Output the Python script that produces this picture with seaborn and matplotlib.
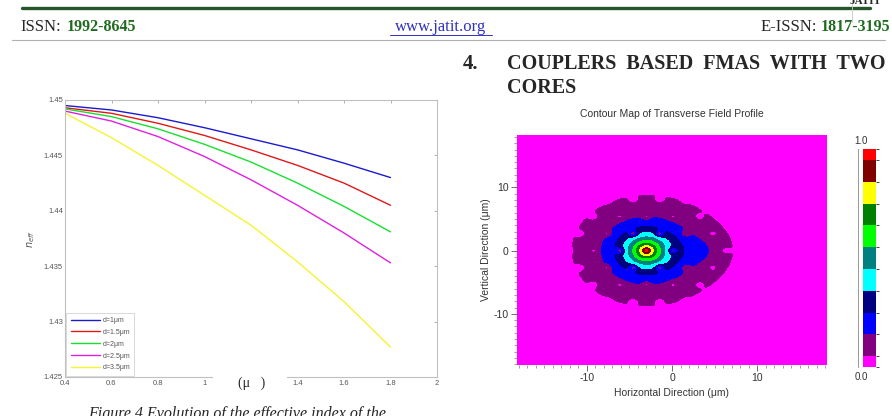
import numpy as np
import pandas as pd
import matplotlib
matplotlib.use('Agg')
import matplotlib.pyplot as plt
from matplotlib.colors import ListedColormap, BoundaryNorm
from matplotlib.patches import Rectangle
from matplotlib.lines import Line2D
import seaborn as sns

# left chart: effective index vs wavelength
wavelength = [0.4, 0.6, 0.8, 1.0, 1.2, 1.4, 1.6, 1.8]
n_d1 = [1.4495, 1.4491, 1.4484, 1.4475, 1.4465, 1.4455, 1.4443, 1.4430]
n_d15 = [1.4493, 1.4488, 1.4479, 1.4468, 1.4455, 1.4441, 1.4425, 1.4405]
n_d2 = [1.4492, 1.4485, 1.4474, 1.4460, 1.4444, 1.4425, 1.4404, 1.4381]
n_d25 = [1.4490, 1.4481, 1.4467, 1.4449, 1.4428, 1.4405, 1.4380, 1.4353]
n_d35 = [1.4488, 1.4466, 1.4441, 1.4414, 1.4387, 1.4354, 1.4318, 1.4277]
series_labels = ['d=1μm', 'd=1.5μm', 'd=2μm', 'd=2.5μm', 'd=3.5μm']
line_colors = ['#1a1ad0', '#e01818', '#18e030', '#e020e0', '#f4f430']
xtick_vals = [0.4, 0.6, 0.8, 1.0, 1.2, 1.4, 1.6, 1.8, 2.0]
xtick_labels = ['0.4', '0.6', '0.8', '1', '', '1.4', '1.6', '1.8', '2']  # 1.2 sits under the (μ ) patch
ytick_vals = [1.425, 1.43, 1.435, 1.44, 1.445, 1.45]
ytick_labels = ['1.425', '1.43', '1.435', '1.44', '1.445', '1.45']

# right chart: contour map, mode lobes / holes
lobe_x = [-3.0, -3.0, 3.2]
lobe_y = [0.0, 0.0, 0.0]
lobe_amp = [0.75, 0.25, 0.12]
lobe_decay = [2.3, 4.3, 2.0]
core_x = [-3.0, 3.2]
core_y = [0.0, 0.0]
pitch = 3.1
hole_depth = 0.7
hole_size = 0.35
levels = [0.0, 0.05, 0.15, 0.25, 0.35, 0.45, 0.55, 0.65, 0.75, 0.85, 0.95, 1.0]
level_colors = ['#ff00ff', '#800080', '#0000ff', '#000080', '#00ffff', '#008080',
                '#00ff00', '#008000', '#ffff00', '#800000', '#ff0000']

sns.set_style('white')
plt.rcParams['font.family'] = ['Liberation Sans', 'DejaVu Sans']

W, H = 892, 416
fig = plt.figure(figsize=(W / 100, H / 100), dpi=100)


def fx(px):
    return px / W


def fy(py):
    return 1 - py / H


# ---- page header
fig.add_artist(Line2D([fx(22), fx(870)], [fy(8), fy(8)], color='#24562a', lw=2.4))
fig.add_artist(Line2D([fx(12), fx(885)], [fy(40), fy(40)], color='#b0b0b0', lw=0.8))
fig.add_artist(Line2D([fx(852), fx(852)], [fy(0), fy(22)], color='#c8c8c8', lw=0.6))
fig.text(fx(866), fy(1), 'JATIT', ha='center', va='center', fontsize=8,
         fontweight='bold', family='Liberation Serif')
serif = 'Liberation Serif'
fig.text(fx(20), fy(27), 'ISSN:', ha='left', va='center', fontsize=12, family=serif)
fig.text(fx(67), fy(27), '1992-8645', ha='left', va='center', fontsize=11.5,
         family=serif, fontweight='bold', color='#1f6b1f')
fig.text(fx(441), fy(27), 'www.jatit.org', ha='center', va='center', fontsize=12,
         family=serif, color='#3030c0')
fig.add_artist(Line2D([fx(390), fx(492)], [fy(35), fy(35)], color='#3030c0', lw=0.7))
fig.text(fx(817), fy(27), 'E-ISSN:', ha='right', va='center', fontsize=12, family=serif)
fig.text(fx(890), fy(27), '1817-3195', ha='right', va='center', fontsize=11.5,
         family=serif, fontweight='bold', color='#1f6b1f')

fig.text(fx(463), fy(64), '4.', ha='left', va='center', fontsize=15,
         family=serif, fontweight='bold')
fig.text(fx(507), fy(64), 'COUPLERS  BASED  FMAS  WITH  TWO', ha='left', va='center',
         fontsize=14.5, family=serif, fontweight='bold')
fig.text(fx(507), fy(88), 'CORES', ha='left', va='center', fontsize=14.5,
         family=serif, fontweight='bold')

fig.text(fx(88), -0.004, 'Figure 4 Evolution of the effective index of the', ha='left',
         va='baseline', fontsize=11.5, family=serif, style='italic')

# ---- left chart
ax = fig.add_axes([fx(65), fy(377), fx(437) - fx(65), fy(100) - fy(377)])
rows = []
for lab, vals in zip(series_labels, [n_d1, n_d15, n_d2, n_d25, n_d35]):
    for w, v in zip(wavelength, vals):
        rows.append({'wavelength': w, 'neff': v, 'd': lab})
df = pd.DataFrame(rows)
sns.lineplot(data=df, x='wavelength', y='neff', hue='d', palette=line_colors,
             linewidth=1.0, ax=ax)
ax.set_xlim(0.4, 2.0)
ax.set_ylim(1.425, 1.45)
ax.set_xticks(xtick_vals)
ax.set_xticklabels(xtick_labels)
ax.set_yticks(ytick_vals)
ax.set_yticklabels(ytick_labels)
ax.tick_params(direction='in', length=2.5, width=0.5, labelsize=5.5, colors='#909090',
               labelcolor='#555555', top=True, right=True, pad=1.5)
ax.tick_params(axis='x', pad=2.5)
for s in ax.spines.values():
    s.set_color('#c0c0c0')
    s.set_linewidth(0.8)
ax.set_xlabel('')
ax.set_ylabel(r'$n_{eff}$', fontsize=7, color='#555555', labelpad=5)
leg = ax.legend(loc='lower left', fontsize=5, frameon=True, borderaxespad=0.2,
                handlelength=4.2, labelspacing=0.7, handletextpad=0.4, borderpad=0.6)
leg.get_frame().set_edgecolor('#c8c8c8')
leg.get_frame().set_linewidth(0.6)
leg.get_frame().set_boxstyle('square', pad=0)
for t in leg.get_texts():
    t.set_color('#555555')

fig.add_artist(Rectangle((fx(213), fy(395)), fx(287) - fx(213), fy(372) - fy(395),
                         facecolor='white', edgecolor='none', zorder=5))
fig.text(fx(252), fy(383), '(μ   )', ha='center', va='center', fontsize=10,
         family=serif, zorder=6)

# ---- right chart: contour map
xs = np.linspace(-18.2, 18.2, 700)
ys = np.linspace(-18.1, 18.3, 700)
X, Y = np.meshgrid(xs, ys)
field = np.zeros_like(X)
for cx, cy, a, d in zip(lobe_x, lobe_y, lobe_amp, lobe_decay):
    field += a * np.exp(-np.hypot(X - cx, Y - cy) / d)
# air holes of the hexagonal cladding
for j in range(-6, 7):
    for i in range(-8, 9):
        hx = core_x[0] + pitch * (i + 0.5 * (j % 2))
        hy = pitch * np.sqrt(3) / 2 * j
        if any(np.hypot(hx - cx, hy - cy) < 0.5 for cx, cy in zip(core_x, core_y)):
            continue
        field *= 1 - hole_depth * np.exp(-((X - hx) ** 2 + (Y - hy) ** 2) / (2 * hole_size ** 2))
field = np.clip(field / field.max(), 0, 1)

axc = fig.add_axes([fx(517), fy(365), fx(827) - fx(517), fy(135) - fy(365)])
cmap = ListedColormap(level_colors)
norm = BoundaryNorm(levels, cmap.N)
cs = axc.contourf(X, Y, field, levels=levels, cmap=cmap, norm=norm)
axc.set_xlim(-18.2, 18.2)
axc.set_ylim(-18.1, 18.3)
axc.set_xticks([-10, 0, 10])
axc.set_yticks([-10, 0, 10])
axc.set_xticklabels(['-10', '0', '10'])
axc.set_yticklabels(['-10', '0', '10'])
axc.set_xticks(np.arange(-18, 19, 1), minor=True)
axc.set_yticks(np.arange(-18, 19, 1), minor=True)
axc.tick_params(which='major', direction='out', length=4, width=0.6, labelsize=7.5,
                colors='#555555', labelcolor='#333333', pad=2)
axc.tick_params(which='minor', direction='out', length=2, width=0.5, colors='#777777')
axc.tick_params(bottom=True, left=True, top=False, right=False, which='both')
for s in axc.spines.values():
    s.set_visible(False)
axc.set_title('Contour Map of Transverse Field Profile', fontsize=7.5, color='#333333', pad=13)
axc.set_xlabel('Horizontal Direction (μm)', fontsize=7.5, color='#333333', labelpad=3)
axc.set_ylabel('Vertical Direction (μm)', fontsize=7.5, color='#333333', labelpad=2)

cax = fig.add_axes([fx(863), fy(367), fx(876) - fx(863), fy(149) - fy(367)])
cb = fig.colorbar(cs, cax=cax, spacing='proportional')
cb.outline.set_visible(False)
cax.set_yticks([])
sax = fig.add_axes([fx(858), fy(367), 0.0001, fy(149) - fy(367)])
sax.set_ylim(0, 1)
sax.set_xticks([])
sax.set_yticks(np.arange(0, 1.01, 0.1))
sax.set_yticklabels([])
sax.tick_params(direction='out', length=2.5, width=0.5, colors='#777777')
for k, s in sax.spines.items():
    s.set_visible(k == 'left')
sax.spines['left'].set_color('#888888')
sax.spines['left'].set_linewidth(0.6)
fig.text(fx(861), fy(141), '1.0', ha='center', va='center', fontsize=7, color='#333333')
fig.text(fx(861), fy(377), '0.0', ha='center', va='center', fontsize=7, color='#333333')

fig.savefig('out.png', dpi=100)
